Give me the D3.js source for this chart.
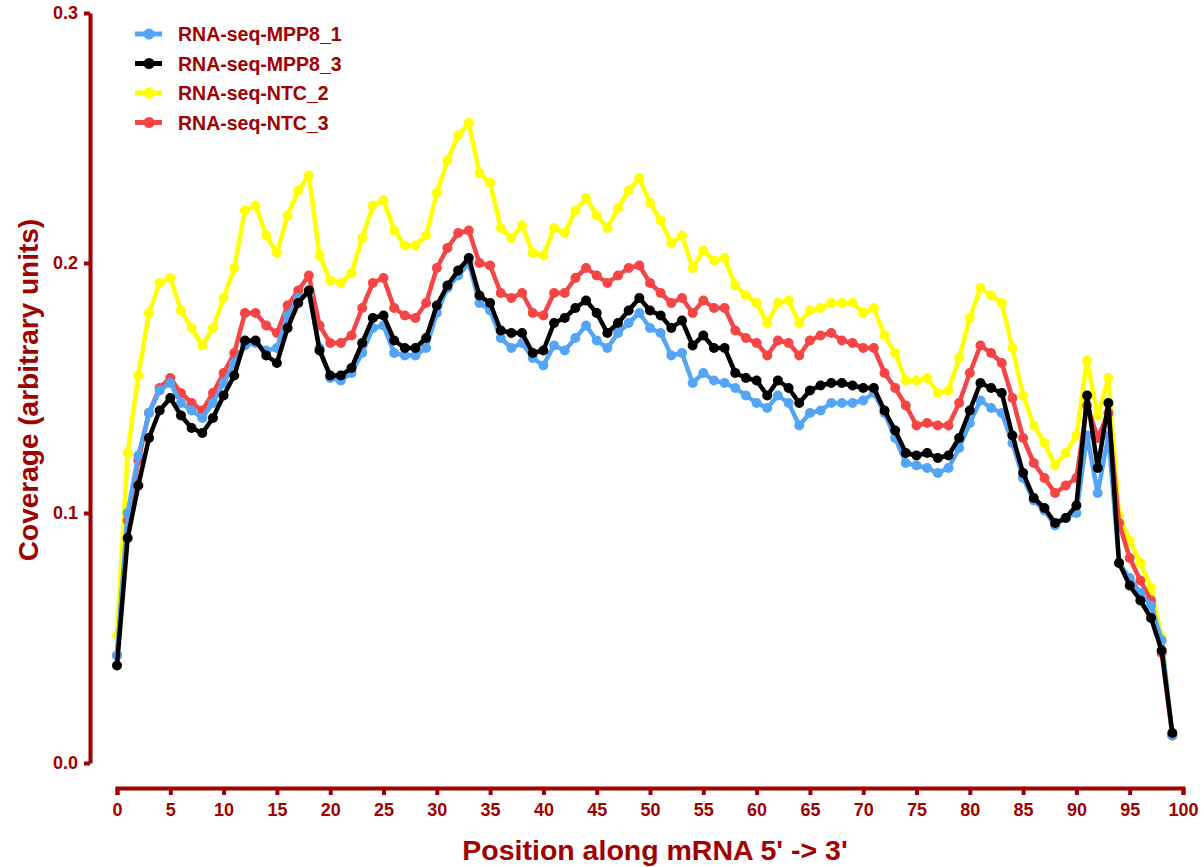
<!DOCTYPE html>
<html>
<head>
<meta charset="utf-8">
<script src="https://cdn.jsdelivr.net/npm/d3@7"></script>
<style>
  body { margin: 0; background: #fff; }
  svg text { font-family: "Liberation Sans", Arial, sans-serif; font-weight: bold; fill: #a00000; }
</style>
</head>
<body>
<div id="container"></div>
<script>
const positions = d3.range(0, 100)

const mpp8_1 = [0.043,0.100,0.123,0.140,0.149,0.152,0.144,0.141,0.138,0.144,
  0.152,0.160,0.167,0.168,0.165,0.166,0.179,0.186,0.188,0.166,
  0.154,0.153,0.156,0.164,0.174,0.175,0.164,0.163,0.163,0.166,
  0.180,0.190,0.195,0.200,0.184,0.181,0.170,0.166,0.168,0.162,
  0.159,0.167,0.165,0.170,0.175,0.169,0.166,0.172,0.176,0.180,
  0.174,0.172,0.163,0.164,0.152,0.156,0.153,0.152,0.150,0.147,
  0.144,0.142,0.147,0.144,0.135,0.140,0.141,0.144,0.144,0.144,
  0.145,0.148,0.140,0.130,0.120,0.119,0.118,0.116,0.118,0.126,
  0.136,0.145,0.142,0.140,0.128,0.114,0.105,0.101,0.095,0.098,
  0.100,0.131,0.108,0.131,0.080,0.074,0.068,0.063,0.049,0.011]

const mpp8_3 = [0.039,0.090,0.111,0.130,0.141,0.146,0.139,0.134,0.132,0.138,
  0.147,0.155,0.169,0.169,0.163,0.160,0.174,0.184,0.189,0.165,
  0.155,0.155,0.158,0.168,0.178,0.179,0.169,0.166,0.166,0.170,
  0.183,0.191,0.197,0.202,0.187,0.184,0.173,0.172,0.172,0.164,
  0.165,0.176,0.178,0.182,0.185,0.180,0.172,0.176,0.181,0.186,
  0.181,0.179,0.174,0.177,0.167,0.171,0.166,0.166,0.156,0.154,
  0.153,0.147,0.153,0.150,0.144,0.149,0.151,0.152,0.152,0.151,
  0.150,0.150,0.141,0.133,0.124,0.123,0.124,0.122,0.123,0.130,
  0.141,0.152,0.150,0.148,0.131,0.116,0.106,0.102,0.096,0.098,
  0.103,0.147,0.118,0.144,0.080,0.071,0.065,0.058,0.045,0.012]

const ntc_2 = [0.051,0.124,0.155,0.180,0.192,0.194,0.181,0.174,0.167,0.174,
  0.186,0.198,0.221,0.223,0.211,0.204,0.219,0.229,0.235,0.203,
  0.193,0.192,0.196,0.210,0.223,0.225,0.213,0.207,0.207,0.211,
  0.228,0.241,0.251,0.256,0.236,0.232,0.214,0.210,0.215,0.204,
  0.203,0.214,0.212,0.221,0.226,0.219,0.214,0.222,0.229,0.234,
  0.224,0.217,0.208,0.211,0.198,0.205,0.201,0.202,0.191,0.187,
  0.184,0.176,0.184,0.185,0.176,0.181,0.182,0.184,0.184,0.184,
  0.180,0.182,0.171,0.164,0.153,0.153,0.154,0.148,0.149,0.162,
  0.178,0.190,0.187,0.184,0.166,0.147,0.135,0.128,0.119,0.124,
  0.131,0.161,0.139,0.154,0.099,0.089,0.080,0.070,0.050,0.011]

const ntc_3 = [0.043,0.097,0.121,0.140,0.150,0.154,0.148,0.144,0.141,0.148,
  0.156,0.164,0.180,0.180,0.175,0.172,0.183,0.189,0.195,0.175,
  0.168,0.168,0.171,0.182,0.192,0.194,0.182,0.179,0.178,0.184,
  0.198,0.206,0.212,0.213,0.200,0.199,0.188,0.186,0.188,0.180,
  0.179,0.188,0.188,0.194,0.198,0.195,0.192,0.195,0.198,0.199,
  0.192,0.188,0.184,0.186,0.180,0.185,0.182,0.182,0.173,0.170,
  0.168,0.163,0.169,0.168,0.163,0.169,0.171,0.172,0.169,0.168,
  0.166,0.166,0.156,0.150,0.143,0.135,0.136,0.135,0.135,0.144,
  0.156,0.167,0.164,0.160,0.146,0.130,0.120,0.114,0.108,0.111,
  0.114,0.143,0.130,0.140,0.096,0.082,0.073,0.065,0.044,0.011]

const seriesNames = ['RNA-seq-MPP8_1', 'RNA-seq-MPP8_3', 'RNA-seq-NTC_2', 'RNA-seq-NTC_3']
const seriesColors = ['#55a5f7', '#000000', '#ffff00', '#f54545']
const seriesValues = [mpp8_1, mpp8_3, ntc_2, ntc_3]
const drawOrder = [2, 3, 0, 1]

const xTicks = d3.range(0, 101, 5)
const yTicks = [0, 0.1, 0.2, 0.3]

const w = 1204
const h = 867
const axisColor = '#a00000'

const svg = d3.select('#container')
    .append('svg')
    .attr('width', w)
    .attr('height', h)

const x = d3.scaleLinear([0, 100], [117, 1183])
const y = d3.scaleLinear([0, 0.3], [763, 13])

// x axis sits a bit below the plot
const axisX = d3.axisBottom(x)
    .tickValues(xTicks)
    .tickSize(7)
    .tickSizeOuter(7)
    .tickPadding(8)
const gx = svg.append('g')
    .attr('transform', 'translate(0,788)')
    .call(axisX)
gx.select('.domain').attr('stroke', axisColor).attr('stroke-width', 4)
gx.selectAll('.tick line').attr('stroke', axisColor).attr('stroke-width', 4)
gx.selectAll('.tick text').attr('font-size', 18).attr('fill', axisColor)

const axisY = d3.axisLeft(y)
    .tickValues(yTicks)
    .tickFormat(d3.format('.1f'))
    .tickSize(6)
    .tickSizeOuter(0)
    .tickPadding(6)
const gy = svg.append('g')
    .attr('transform', 'translate(90,0)')
    .call(axisY)
gy.select('.domain').attr('stroke', axisColor).attr('stroke-width', 4)
gy.selectAll('.tick line').attr('stroke', axisColor).attr('stroke-width', 4)
gy.selectAll('.tick text').attr('font-size', 18).attr('fill', axisColor)

svg.append('text')
    .text("Position along mRNA 5' -> 3'")
    .attr('x', 655)
    .attr('y', 860)
    .attr('text-anchor', 'middle')
    .attr('font-size', 28.5)

svg.append('text')
    .text('Coverage (arbitrary units)')
    .attr('transform', 'translate(38,390) rotate(-90)')
    .attr('text-anchor', 'middle')
    .attr('font-size', 28)

const line = d3.line()
    .x((d, i) => x(positions[i]))
    .y(d => y(d))

drawOrder.forEach(k => {
    const g = svg.append('g')
    g.append('path')
        .attr('d', line(seriesValues[k]))
        .attr('fill', 'none')
        .attr('stroke', seriesColors[k])
        .attr('stroke-width', 4.5)
        .attr('stroke-linejoin', 'round')
    g.selectAll('circle')
        .data(seriesValues[k])
        .enter()
        .append('circle')
        .attr('cx', (d, i) => x(positions[i]))
        .attr('cy', d => y(d))
        .attr('r', 5)
        .attr('fill', seriesColors[k])
})

const legend = svg.append('g')
    .attr('transform', 'translate(135,34)')

seriesNames.forEach((name, i) => {
    const row = legend.append('g')
        .attr('transform', `translate(0,${i * 29.5})`)
    row.append('line')
        .attr('x1', 0)
        .attr('x2', 27)
        .attr('stroke', seriesColors[i])
        .attr('stroke-width', 5)
    row.append('circle')
        .attr('cx', 14)
        .attr('r', 5.5)
        .attr('fill', seriesColors[i])
    row.append('text')
        .text(name)
        .attr('x', 43)
        .attr('y', 7)
        .attr('font-size', 19.5)
})
</script>
</body>
</html>
